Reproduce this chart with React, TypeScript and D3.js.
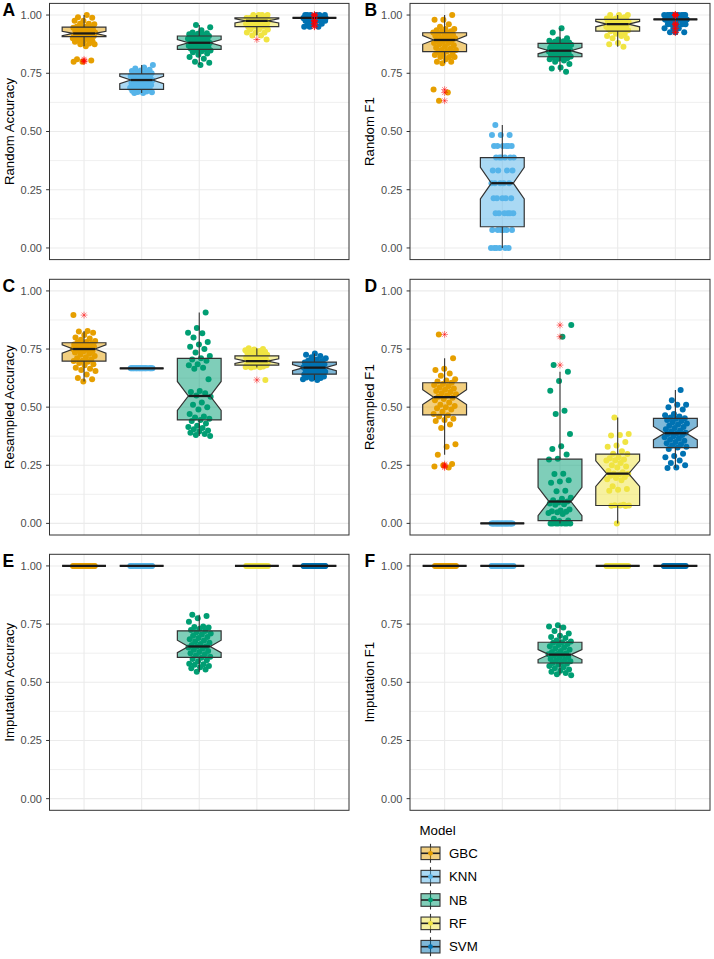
import React from 'react';
import * as d3 from 'd3';

const models = ['GBC', 'KNN', 'NB', 'RF', 'SVM'];
const colors = ['#E69F00', '#56B4E9', '#009E73', '#F0E442', '#0072B2'];
const yTicks = [0, 0.25, 0.5, 0.75, 1];
const yMinor = [0.125, 0.375, 0.625, 0.875];
const yTickLabels = ['0.00', '0.25', '0.50', '0.75', '1.00'];

// ---------- Panel A: Random Accuracy ----------
const randAccGBC = [1.0, 0.99, 0.988, 0.975, 0.975, 0.963, 0.963, 0.96, 0.95, 0.95, 0.95, 0.948, 0.945, 0.94, 0.938, 0.938, 0.935, 0.93, 0.925, 0.925, 0.925, 0.921, 0.921, 0.92, 0.92, 0.913, 0.913, 0.91, 0.91, 0.908, 0.908, 0.9, 0.9, 0.9, 0.898, 0.89, 0.888, 0.888, 0.885, 0.878, 0.875, 0.875, 0.866, 0.81, 0.805, 0.80, 0.80];
const randAccKNN = [0.785, 0.775, 0.77, 0.765, 0.762, 0.76, 0.755, 0.752, 0.75, 0.748, 0.745, 0.742, 0.74, 0.738, 0.735, 0.733, 0.73, 0.728, 0.725, 0.722, 0.721, 0.72, 0.718, 0.715, 0.712, 0.71, 0.708, 0.705, 0.702, 0.7, 0.698, 0.695, 0.692, 0.69, 0.688, 0.685, 0.682, 0.68, 0.678, 0.675, 0.672, 0.67, 0.668, 0.665, 0.665];
const randAccNB = [0.957, 0.948, 0.935, 0.925, 0.922, 0.92, 0.918, 0.915, 0.912, 0.91, 0.908, 0.905, 0.903, 0.9, 0.898, 0.895, 0.893, 0.89, 0.888, 0.885, 0.883, 0.881, 0.88, 0.878, 0.875, 0.872, 0.87, 0.868, 0.865, 0.863, 0.86, 0.858, 0.855, 0.853, 0.85, 0.848, 0.845, 0.84, 0.835, 0.83, 0.82, 0.812, 0.8, 0.795, 0.785];
const randAccRF = [1.0, 1.0, 1.0, 1.0, 0.9875, 0.9875, 0.9875, 0.9875, 0.9875, 0.9875, 0.9875, 0.9875, 0.975, 0.975, 0.975, 0.975, 0.975, 0.975, 0.975, 0.975, 0.975, 0.975, 0.9625, 0.9625, 0.9625, 0.9625, 0.9625, 0.9625, 0.9625, 0.9625, 0.95, 0.95, 0.95, 0.95, 0.95, 0.95, 0.9375, 0.9375, 0.9375, 0.925, 0.925, 0.925, 0.9125, 0.9125, 0.895];
const randAccSVM = [1.0, 1.0, 1.0, 1.0, 1.0, 1.0, 0.9875, 0.9875, 0.9875, 0.9875, 0.9875, 0.9875, 0.9875, 0.9875, 0.9875, 0.9875, 0.9875, 0.9875, 0.9875, 0.9875, 0.9875, 0.9875, 0.9875, 0.9875, 0.9875, 0.9875, 0.9875, 0.9875, 0.9875, 0.9875, 0.9875, 0.9875, 0.9875, 0.9875, 0.975, 0.975, 0.975, 0.975, 0.975, 0.9625, 0.9625, 0.9625, 0.95, 0.95, 0.95];
const randAccQ1 = [0.907, 0.681, 0.853, 0.95, 0.9875];
const randAccMed = [0.921, 0.721, 0.881, 0.975, 0.9875];
const randAccQ3 = [0.948, 0.747, 0.91, 0.9875, 0.9875];
const randAccLo = [0.866, 0.665, 0.785, 0.9125, 0.9875];
const randAccHi = [1.0, 0.785, 0.957, 1.0, 0.9875];

// ---------- Panel B: Random F1 ----------
const randF1GBC = [1.0, 0.98, 0.98, 0.96, 0.95, 0.94, 0.94, 0.935, 0.93, 0.93, 0.925, 0.92, 0.92, 0.915, 0.91, 0.91, 0.905, 0.9, 0.9, 0.895, 0.893, 0.89, 0.885, 0.88, 0.88, 0.875, 0.87, 0.865, 0.86, 0.855, 0.85, 0.85, 0.845, 0.84, 0.835, 0.83, 0.828, 0.82, 0.82, 0.82, 0.81, 0.8, 0.8, 0.793, 0.68, 0.667, 0.632];
const randF1KNN = [0.528, 0.485, 0.485, 0.485, 0.438, 0.438, 0.438, 0.438, 0.438, 0.438, 0.388, 0.388, 0.388, 0.388, 0.388, 0.388, 0.333, 0.333, 0.333, 0.333, 0.278, 0.278, 0.278, 0.278, 0.278, 0.213, 0.213, 0.213, 0.213, 0.213, 0.149, 0.149, 0.149, 0.149, 0.149, 0.149, 0.077, 0.077, 0.077, 0.077, 0.077, 0.077, 0, 0, 0, 0, 0, 0];
const randF1NB = [0.943, 0.925, 0.9, 0.895, 0.89, 0.888, 0.885, 0.882, 0.88, 0.878, 0.876, 0.874, 0.872, 0.87, 0.868, 0.865, 0.862, 0.86, 0.858, 0.855, 0.852, 0.85, 0.848, 0.847, 0.845, 0.843, 0.84, 0.838, 0.835, 0.833, 0.83, 0.828, 0.825, 0.822, 0.82, 0.818, 0.815, 0.812, 0.81, 0.805, 0.8, 0.79, 0.775, 0.77, 0.757];
const randF1RF = [1.0, 1.0, 1.0, 0.99, 0.985, 0.985, 0.985, 0.98, 0.98, 0.98, 0.98, 0.975, 0.975, 0.97, 0.97, 0.97, 0.965, 0.965, 0.965, 0.96, 0.96, 0.96, 0.96, 0.955, 0.955, 0.955, 0.95, 0.95, 0.95, 0.945, 0.945, 0.94, 0.94, 0.935, 0.935, 0.93, 0.93, 0.92, 0.92, 0.91, 0.91, 0.9, 0.9, 0.88, 0.875, 0.864];
const randF1SVM = [1.0, 1.0, 1.0, 1.0, 1.0, 1.0, 1.0, 1.0, 1.0, 1.0, 0.981, 0.981, 0.981, 0.981, 0.981, 0.981, 0.981, 0.981, 0.981, 0.981, 0.981, 0.981, 0.981, 0.981, 0.981, 0.981, 0.981, 0.981, 0.981, 0.981, 0.981, 0.981, 0.981, 0.981, 0.961, 0.961, 0.961, 0.961, 0.961, 0.943, 0.943, 0.943, 0.926, 0.926, 0.926];
const randF1Q1 = [0.843, 0.091, 0.821, 0.931, 0.981];
const randF1Med = [0.893, 0.278, 0.847, 0.961, 0.981];
const randF1Q3 = [0.924, 0.388, 0.878, 0.981, 0.981];
const randF1Lo = [0.793, 0, 0.757, 0.864, 0.981];
const randF1Hi = [1.0, 0.528, 0.943, 1.0, 0.981];

// ---------- Panel C: Resampled Accuracy ----------
const resAccGBC = [0.896, 0.828, 0.825, 0.82, 0.81, 0.8, 0.795, 0.79, 0.785, 0.78, 0.778, 0.775, 0.772, 0.77, 0.768, 0.765, 0.762, 0.76, 0.758, 0.755, 0.752, 0.75, 0.748, 0.745, 0.742, 0.74, 0.735, 0.73, 0.725, 0.72, 0.715, 0.71, 0.705, 0.7, 0.698, 0.695, 0.69, 0.685, 0.68, 0.67, 0.665, 0.66, 0.655, 0.64, 0.625, 0.62, 0.61];
const resAccKNN = [0.667, 0.667, 0.667, 0.667, 0.667, 0.667, 0.667, 0.667, 0.667, 0.667, 0.667, 0.667, 0.667, 0.667, 0.667, 0.667, 0.667, 0.667, 0.667, 0.667];
const resAccNB = [0.907, 0.84, 0.82, 0.818, 0.8, 0.78, 0.77, 0.76, 0.75, 0.735, 0.72, 0.71, 0.705, 0.7, 0.685, 0.68, 0.67, 0.665, 0.62, 0.57, 0.565, 0.56, 0.55, 0.545, 0.52, 0.51, 0.5, 0.49, 0.47, 0.46, 0.455, 0.45, 0.445, 0.44, 0.43, 0.42, 0.415, 0.41, 0.405, 0.4, 0.395, 0.39, 0.385, 0.38, 0.376];
const resAccRF = [0.753, 0.75, 0.748, 0.745, 0.742, 0.74, 0.738, 0.735, 0.732, 0.73, 0.728, 0.725, 0.722, 0.72, 0.718, 0.715, 0.712, 0.71, 0.708, 0.705, 0.702, 0.7, 0.698, 0.697, 0.695, 0.693, 0.69, 0.688, 0.686, 0.684, 0.682, 0.681, 0.68, 0.678, 0.676, 0.675, 0.674, 0.673, 0.672, 0.671, 0.617];
const resAccSVM = [0.731, 0.725, 0.72, 0.715, 0.71, 0.705, 0.7, 0.698, 0.695, 0.692, 0.69, 0.688, 0.685, 0.682, 0.68, 0.678, 0.675, 0.672, 0.67, 0.668, 0.665, 0.662, 0.66, 0.658, 0.655, 0.652, 0.65, 0.648, 0.645, 0.642, 0.64, 0.638, 0.635, 0.632, 0.63, 0.628, 0.625, 0.622, 0.62, 0.617];
const resAccQ1 = [0.698, 0.667, 0.445, 0.681, 0.642];
const resAccMed = [0.75, 0.667, 0.548, 0.698, 0.67];
const resAccQ3 = [0.777, 0.667, 0.71, 0.721, 0.694];
const resAccLo = [0.61, 0.667, 0.376, 0.671, 0.617];
const resAccHi = [0.828, 0.667, 0.907, 0.753, 0.731];

// ---------- Panel D: Resampled F1 ----------
const resF1GBC = [0.813, 0.71, 0.665, 0.66, 0.645, 0.635, 0.62, 0.615, 0.61, 0.605, 0.6, 0.595, 0.59, 0.585, 0.58, 0.575, 0.57, 0.565, 0.56, 0.555, 0.55, 0.545, 0.54, 0.535, 0.53, 0.52, 0.51, 0.505, 0.5, 0.495, 0.49, 0.48, 0.47, 0.465, 0.46, 0.45, 0.445, 0.44, 0.425, 0.41, 0.34, 0.33, 0.295, 0.255, 0.25, 0.245, 0.24];
const resF1KNN = [0, 0, 0, 0, 0, 0, 0, 0, 0, 0, 0, 0, 0, 0, 0, 0, 0, 0, 0, 0];
const resF1NB = [0.853, 0.803, 0.681, 0.652, 0.612, 0.571, 0.485, 0.47, 0.385, 0.332, 0.32, 0.296, 0.278, 0.275, 0.214, 0.212, 0.185, 0.18, 0.175, 0.14, 0.138, 0.11, 0.106, 0.1, 0.094, 0.09, 0.085, 0.082, 0.08, 0.06, 0.055, 0.052, 0.05, 0.048, 0.045, 0.04, 0.02, 0.012, 0.01, 0, 0, 0, 0, 0, 0, 0, 0];
const resF1RF = [0.456, 0.385, 0.38, 0.378, 0.35, 0.335, 0.33, 0.31, 0.3, 0.298, 0.285, 0.28, 0.275, 0.272, 0.27, 0.26, 0.25, 0.245, 0.24, 0.225, 0.22, 0.215, 0.214, 0.21, 0.205, 0.2, 0.195, 0.19, 0.185, 0.16, 0.148, 0.145, 0.14, 0.08, 0.078, 0.077, 0.077, 0.076, 0.075, 0.0];
const resF1SVM = [0.574, 0.53, 0.51, 0.51, 0.5, 0.49, 0.47, 0.465, 0.46, 0.455, 0.452, 0.45, 0.445, 0.44, 0.435, 0.43, 0.425, 0.42, 0.415, 0.41, 0.405, 0.4, 0.395, 0.39, 0.388, 0.385, 0.38, 0.375, 0.37, 0.365, 0.36, 0.355, 0.35, 0.345, 0.34, 0.335, 0.33, 0.326, 0.32, 0.3, 0.29, 0.285, 0.27, 0.26, 0.25, 0.24, 0.238];
const resF1Q1 = [0.467, 0, 0.012, 0.077, 0.326];
const resF1Med = [0.543, 0, 0.094, 0.214, 0.388];
const resF1Q3 = [0.605, 0, 0.276, 0.298, 0.452];
const resF1Lo = [0.295, 0, 0, 0, 0.238];
const resF1Hi = [0.71, 0, 0.652, 0.456, 0.574];

// ---------- Panel E: Imputation Accuracy ----------
const impAccGBC = [1, 1, 1, 1, 1, 1, 1, 1, 1, 1, 1, 1, 1, 1, 1, 1, 1, 1, 1, 1];
const impAccKNN = [1, 1, 1, 1, 1, 1, 1, 1, 1, 1, 1, 1, 1, 1, 1, 1, 1, 1, 1, 1];
const impAccNB = [0.79, 0.785, 0.775, 0.76, 0.74, 0.738, 0.735, 0.73, 0.725, 0.72, 0.715, 0.71, 0.705, 0.7, 0.695, 0.69, 0.685, 0.68, 0.675, 0.67, 0.665, 0.66, 0.655, 0.654, 0.65, 0.645, 0.64, 0.635, 0.63, 0.625, 0.62, 0.615, 0.61, 0.605, 0.6, 0.595, 0.59, 0.58, 0.578, 0.575, 0.57, 0.565, 0.56, 0.555, 0.545];
const impAccRF = [1, 1, 1, 1, 1, 1, 1, 1, 1, 1, 1, 1, 1, 1, 1, 1, 1, 1, 1, 1];
const impAccSVM = [1, 1, 1, 1, 1, 1, 1, 1, 1, 1, 1, 1, 1, 1, 1, 1, 1, 1, 1, 1];
const impAccQ1 = [1, 1, 0.607, 1, 1];
const impAccMed = [1, 1, 0.654, 1, 1];
const impAccQ3 = [1, 1, 0.721, 1, 1];
const impAccLo = [1, 1, 0.545, 1, 1];
const impAccHi = [1, 1, 0.79, 1, 1];

// ---------- Panel F: Imputation F1 ----------
const impF1GBC = [1, 1, 1, 1, 1, 1, 1, 1, 1, 1, 1, 1, 1, 1, 1, 1, 1, 1, 1, 1];
const impF1KNN = [1, 1, 1, 1, 1, 1, 1, 1, 1, 1, 1, 1, 1, 1, 1, 1, 1, 1, 1, 1];
const impF1NB = [0.745, 0.74, 0.735, 0.72, 0.71, 0.7, 0.695, 0.69, 0.68, 0.675, 0.672, 0.67, 0.665, 0.66, 0.655, 0.65, 0.645, 0.64, 0.635, 0.63, 0.625, 0.622, 0.62, 0.618, 0.615, 0.61, 0.605, 0.6, 0.598, 0.595, 0.59, 0.585, 0.583, 0.58, 0.575, 0.57, 0.565, 0.56, 0.555, 0.55, 0.545, 0.54, 0.535, 0.53];
const impF1RF = [1, 1, 1, 1, 1, 1, 1, 1, 1, 1, 1, 1, 1, 1, 1, 1, 1, 1, 1, 1];
const impF1SVM = [1, 1, 1, 1, 1, 1, 1, 1, 1, 1, 1, 1, 1, 1, 1, 1, 1, 1, 1, 1];
const impF1Q1 = [1, 1, 0.583, 1, 1];
const impF1Med = [1, 1, 0.619, 1, 1];
const impF1Q3 = [1, 1, 0.672, 1, 1];
const impF1Lo = [1, 1, 0.53, 1, 1];
const impF1Hi = [1, 1, 0.745, 1, 1];

const panelLabels = ['A', 'B', 'C', 'D', 'E', 'F'];
const panelTitles = ['Random Accuracy', 'Random F1', 'Resampled Accuracy', 'Resampled F1', 'Imputation Accuracy', 'Imputation F1'];

const panelData = [
  { pts: [randAccGBC, randAccKNN, randAccNB, randAccRF, randAccSVM], q1: randAccQ1, med: randAccMed, q3: randAccQ3, lo: randAccLo, hi: randAccHi },
  { pts: [randF1GBC, randF1KNN, randF1NB, randF1RF, randF1SVM], q1: randF1Q1, med: randF1Med, q3: randF1Q3, lo: randF1Lo, hi: randF1Hi },
  { pts: [resAccGBC, resAccKNN, resAccNB, resAccRF, resAccSVM], q1: resAccQ1, med: resAccMed, q3: resAccQ3, lo: resAccLo, hi: resAccHi },
  { pts: [resF1GBC, resF1KNN, resF1NB, resF1RF, resF1SVM], q1: resF1Q1, med: resF1Med, q3: resF1Q3, lo: resF1Lo, hi: resF1Hi },
  { pts: [impAccGBC, impAccKNN, impAccNB, impAccRF, impAccSVM], q1: impAccQ1, med: impAccMed, q3: impAccQ3, lo: impAccLo, hi: impAccHi },
  { pts: [impF1GBC, impF1KNN, impF1NB, impF1RF, impF1SVM], q1: impF1Q1, med: impF1Med, q3: impF1Q3, lo: impF1Lo, hi: impF1Hi },
];

// layout
const COLS = [
  { x0: 49.5, x1: 349, labelX: 2.5, titleX: 9.5 },
  { x0: 410, x1: 710, labelX: 364.5, titleX: 369.5 },
];
const ROWS = [
  { top: 3.4, bottom: 259.6 },
  { top: 279.3, bottom: 535 },
  { top: 554.3, bottom: 810.3 },
];

const FONT = "'Liberation Sans', Arial, Helvetica, sans-serif";
const PHI = 0.6180339887;

function asteriskPath(s: number) {
  const d = s * 0.72;
  return `M${-s},0H${s}M0,${-s}V${s}M${-d},${-d}L${d},${d}M${-d},${d}L${d},${-d}`;
}

function Panel({ idx }: { idx: number }) {
  const col = COLS[idx % 2];
  const row = ROWS[Math.floor(idx / 2)];
  const data = panelData[idx];
  const x = d3.scalePoint<string>().domain(models).range([col.x0, col.x1]).padding(0.6);
  const y = d3.scaleLinear().domain([-0.05, 1.05]).range([row.bottom, row.top]);
  const step = x.step();
  const bw = step * 0.76;
  const jw = step * 0.2;

  return (
    <g>
      <rect x={col.x0} y={row.top} width={col.x1 - col.x0} height={row.bottom - row.top} fill="#fff" />
      {yMinor.map((t) => (
        <line key={'mi' + t} x1={col.x0} x2={col.x1} y1={y(t)} y2={y(t)} stroke="#EBEBEB" strokeWidth={0.8} />
      ))}
      {yTicks.map((t) => (
        <line key={'ma' + t} x1={col.x0} x2={col.x1} y1={y(t)} y2={y(t)} stroke="#EBEBEB" strokeWidth={1.1} />
      ))}
      {models.map((m) => (
        <line key={'v' + m} x1={x(m)} x2={x(m)} y1={row.top} y2={row.bottom} stroke="#EBEBEB" strokeWidth={1.1} />
      ))}
      {/* jittered points */}
      {models.map((m, gi) => {
        const cx = x(m) as number;
        return data.pts[gi].map((v, i) => {
          const f = ((i + 1) * PHI + gi * 0.37 + idx * 0.21) % 1;
          return <circle key={m + i} cx={cx + (f * 2 - 1) * jw} cy={y(v)} r={3} fill={colors[gi]} />;
        });
      })}
      {/* boxplots */}
      {models.map((m, gi) => {
        const cx = x(m) as number;
        const q1 = data.q1[gi], q3 = data.q3[gi], med = data.med[gi];
        const n = data.pts[gi].length;
        const iqr = q3 - q1;
        const nh = (1.58 * iqr) / Math.sqrt(n);
        const nu = med + nh, nl = med - nh;
        const xl = cx - bw / 2, xr = cx + bw / 2;
        const ind = bw * 0.25;
        const poly = [
          [xl, y(q3)], [xl, y(nu)], [xl + ind, y(med)], [xl, y(nl)], [xl, y(q1)],
          [xr, y(q1)], [xr, y(nl)], [xr - ind, y(med)], [xr, y(nu)], [xr, y(q3)],
        ];
        const outliers = data.pts[gi].filter((v) => v < data.lo[gi] - 1e-6 || v > data.hi[gi] + 1e-6);
        return (
          <g key={'b' + m}>
            <line x1={cx} x2={cx} y1={y(q3)} y2={y(data.hi[gi])} stroke="#333333" strokeWidth={1.1} />
            <line x1={cx} x2={cx} y1={y(q1)} y2={y(data.lo[gi])} stroke="#333333" strokeWidth={1.1} />
            <path d={'M' + poly.map((p) => p.join(',')).join('L') + 'Z'} fill={colors[gi]} fillOpacity={0.5} stroke="#333333" strokeWidth={1.2} strokeLinejoin="miter" />
            <line x1={iqr > 0 ? xl + ind : xl} x2={iqr > 0 ? xr - ind : xr} y1={y(med)} y2={y(med)} stroke="#1a1a1a" strokeWidth={2.3} />
            {outliers.map((v, i) => (
              <path key={'o' + i} d={asteriskPath(3.4)} transform={`translate(${cx},${y(v)})`} stroke="red" strokeOpacity={0.55} strokeWidth={0.9} fill="none" />
            ))}
          </g>
        );
      })}
      <rect x={col.x0} y={row.top} width={col.x1 - col.x0} height={row.bottom - row.top} fill="none" stroke="#333333" strokeWidth={1} />
      {/* y axis */}
      {yTicks.map((t, i) => (
        <g key={'t' + t}>
          <line x1={col.x0 - 3.4} x2={col.x0} y1={y(t)} y2={y(t)} stroke="#333333" strokeWidth={1} />
          <text x={col.x0 - 7.5} y={y(t)} dy="0.36em" textAnchor="end" fontSize={11} fill="#4D4D4D" fontFamily={FONT}>{yTickLabels[i]}</text>
        </g>
      ))}
      <text transform={`translate(${col.titleX},${(row.top + row.bottom) / 2}) rotate(-90)`} dy="0.36em" textAnchor="middle" fontSize={13.2} fill="#000" fontFamily={FONT}>{panelTitles[idx]}</text>
      <text x={col.labelX} y={row.top + 13} fontSize={17.5} fontWeight="bold" fill="#000" fontFamily={FONT}>{panelLabels[idx]}</text>
    </g>
  );
}

function Legend() {
  const lx = 419.5;
  const keyX = 421;
  const keyW = 19;
  const y0 = 853.3;
  const dy = 23.35;
  return (
    <g fontFamily={FONT}>
      <text x={lx} y={834.8} fontSize={13.3} fill="#000">Model</text>
      {models.map((m, i) => {
        const cy = y0 + i * dy;
        const cx = keyX + keyW / 2;
        return (
          <g key={'lg' + m}>
            <line x1={cx} x2={cx} y1={cy - 9.5} y2={cy + 9.5} stroke="#333333" strokeWidth={1.1} />
            <rect x={keyX} y={cy - 6.3} width={keyW} height={12.6} fill={colors[i]} fillOpacity={0.5} stroke="#333333" strokeWidth={1.1} />
            <line x1={keyX} x2={keyX + keyW} y1={cy} y2={cy} stroke="#222222" strokeWidth={1.6} />
            <circle cx={cx} cy={cy} r={2.4} fill={colors[i]} />
            <text x={449} y={cy} dy="0.36em" fontSize={13.3} fill="#000">{m}</text>
          </g>
        );
      })}
    </g>
  );
}

export default function App() {
  return (
    <svg width={714} height={959} style={{ position: 'absolute', left: 0, top: 0, background: '#fff' }}>
      <rect x={0} y={0} width={714} height={959} fill="#fff" />
      {panelData.map((_, i) => (
        <Panel key={i} idx={i} />
      ))}
      <Legend />
    </svg>
  );
}
